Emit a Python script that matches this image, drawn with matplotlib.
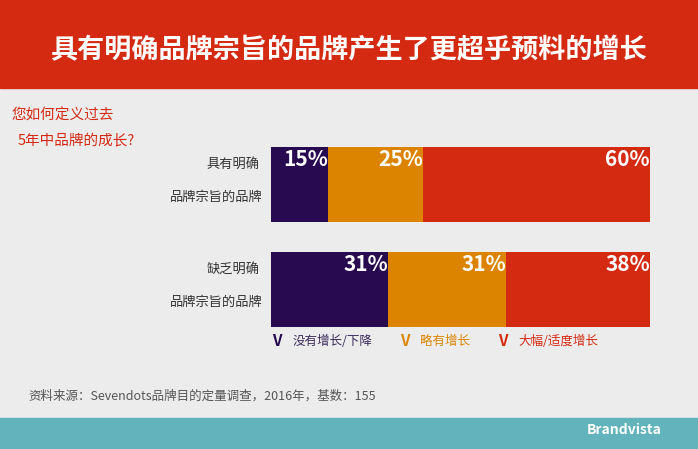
import matplotlib
matplotlib.use("Agg")
import matplotlib.pyplot as plt
from matplotlib.patches import Rectangle

plt.rcParams["font.family"] = ["Noto Sans CJK SC", "DejaVu Sans"]

categories = ["具有明确\n品牌宗旨的品牌", "缺乏明确\n品牌宗旨的品牌"]
series_names = ["没有增长/下降", "略有增长", "大幅/适度增长"]
values = [[15, 31], [25, 31], [60, 38]]
colors = ["#280a50", "#dc8400", "#d42a12"]

W, H = 698, 449
fig = plt.figure(figsize=(W / 100, H / 100), dpi=100)
fig.patch.set_facecolor("#ececec")

def px(x, y):
    return x / W, 1 - y / H

# header
fig.patches.append(Rectangle((0, 1 - 88 / H), 1, 88 / H, transform=fig.transFigure, color="#d42a12", zorder=0))
fig.text(*px(349, 50), "具有明确品牌宗旨的品牌产生了更超乎预料的增长", color="white", fontsize=19.5,
         fontweight="bold", ha="center", va="center")
# footer
fig.patches.append(Rectangle((0, 0), 1, 31 / H, transform=fig.transFigure, color="#62b3bb", zorder=0))
fig.text(*px(624, 430), "Brandvista", color="white", fontsize=10, fontweight="bold", ha="center", va="center")

fig.text(*px(12, 116), "您如何定义过去", color="#d42a12", fontsize=10.5, va="center")
fig.text(*px(18, 140), "5年中品牌的成长?", color="#d42a12", fontsize=10.5, va="center")
fig.text(*px(28, 396), "资料来源：Sevendots品牌目的定量调查，2016年，基数：155", color="#555555",
         fontsize=9, va="center")

ax = fig.add_axes([271 / W, 1 - 327 / H, 379 / W, 180 / H])
ax.set_facecolor("none")
h = 0.718
left = [0, 0]
for name, vals, c in zip(series_names, values, colors):
    ax.barh(range(len(categories)), vals, left=left, height=h, color=c, label=name)
    for i, v in enumerate(vals):
        ax.text(left[i] + v, i - h / 2 + 0.02, f"{v}%", color="white", fontsize=15,
                fontweight="bold", ha="right", va="top")
    left = [l + v for l, v in zip(left, vals)]
ax.set_xlim(0, 100)
ax.set_ylim(1 + h / 2, -h / 2)
ax.axis("off")

for i, cat in enumerate(categories):
    l1, l2 = cat.split("\n")
    yc = [184.5, 289][i]
    fig.text(*px(207, yc - 20), l1, color="#333333", fontsize=9.5, va="center")
    fig.text(*px(170, yc + 13), l2, color="#333333", fontsize=9.5, va="center")

for xv, xt, name, c in zip([272, 400, 498], [293, 420, 518], series_names, colors):
    fig.text(*px(xv, 341), "V", color=c, fontsize=11, fontweight="bold", style="italic", va="center")
    fig.text(*px(xt, 341), name, color=c if c != "#280a50" else "#3a2a5a", fontsize=9, va="center")

fig.savefig("out.png", dpi=100, facecolor=fig.get_facecolor())
